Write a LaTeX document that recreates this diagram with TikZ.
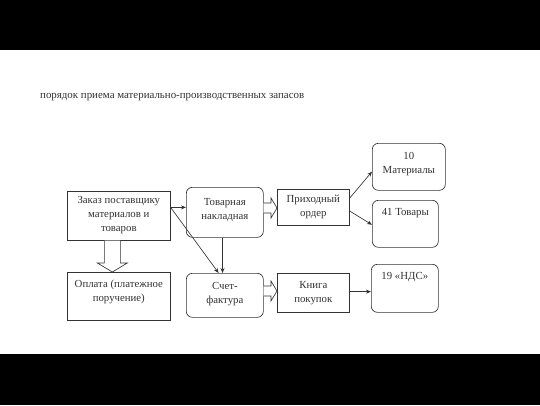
\documentclass[tikz,border=0pt]{standalone}
\usepackage{fontspec}
\setmainfont{Liberation Serif}
\usetikzlibrary{arrows.meta,calc}
\definecolor{ink}{HTML}{333333}
\tikzset{
  box/.style={draw=ink, line width=0.65pt, fill=white, anchor=north west, inner sep=2pt,
    align=center, text=ink, font=\fontsize{10.8}{14}\selectfont},
  rbox/.style={box, rounded corners=6pt},
  arr/.style={draw=ink, line width=0.65pt, -{Stealth[length=5pt,width=4pt]}},
  hollow/.style={draw=ink, line width=0.65pt, fill=white, line join=miter},
  band/.style={fill=black, draw=none},
  title/.style={anchor=west, text=ink, inner sep=0pt, font=\fontsize{10.9}{12}\selectfont}
}
\begin{document}
\begin{tikzpicture}[x=1pt,y=-1pt]
\useasboundingbox (0,0) rectangle (540,405);
\fill[white] (0,0) rectangle (540,405);
\fill[band] (0,0) rectangle (540,50);
\fill[band] (0,354) rectangle (540,405);

\node[title] (ttl) at (40,97.5) {порядок приема материально-производственных запасов};

% boxes
\node[box, minimum width=103pt, minimum height=49pt, text depth=3pt] (zak) at (67,191) {Заказ поставщику\\материалов и\\товаров};
\node[box, minimum width=103pt, minimum height=48pt, text depth=12pt] (opl) at (67,272) {Оплата (платежное\\поручение)};
\node[rbox, minimum width=77pt, minimum height=50pt, text depth=6pt] (tov) at (186,187) {Товарная\\накладная};
\node[rbox, minimum width=77pt, minimum height=44pt, text depth=4pt] (sf) at (186,273) {Счет-\\фактура};
\node[box, minimum width=72pt, minimum height=36pt] (pr) at (277,189) {Приходный\\ордер};
\node[box, minimum width=72pt, minimum height=39pt] (kn) at (277,273) {Книга\\покупок};
\node[rbox, minimum width=73pt, minimum height=47pt, text depth=8pt] (m10) at (372,143) {10\\Материалы};
\node[rbox, minimum width=66pt, minimum height=47pt, text depth=24pt] (t41) at (372,200) {41 Товары};
\node[rbox, minimum width=67pt, minimum height=48pt, text depth=24pt] (n19) at (371,264) {19 «НДС»};

% thin arrows
\coordinate (zA) at ($(zak.north east)!0.33!(zak.south east)$);
\draw[arr] (zA) -- (zA -| tov.west);
\draw[arr] (zA) -- ($(sf.north west)!0.42!(sf.north east)$);
\coordinate (tB) at ($(tov.south west)!0.47!(tov.south east)$);
\draw[arr] (tB) -- (tB |- sf.north);
\draw[arr] ($(pr.north east)!0.25!(pr.south east)$) -- ($(m10.north west)!0.6!(m10.south west)$);
\draw[arr] ($(pr.north east)!0.6!(pr.south east)$) -- ($(t41.north west)!0.52!(t41.south west)$);
\coordinate (kC) at ($(kn.north east)!0.47!(kn.south east)$);
\draw[arr] (kC) -- (kC -| n19.west);

% hollow arrows
\coordinate (c1) at ($(zak.south)+(-6.5,0)$);
\coordinate (t1) at (c1 |- opl.north);
\draw[hollow] ($(c1)+(-8,0)$) -- ($(t1)+(-8,-9)$) -- ($(t1)+(-15,-9)$) -- (t1)
  -- ($(t1)+(15,-9)$) -- ($(t1)+(8,-9)$) -- ($(c1)+(8,0)$);

\coordinate (c2) at (tov.east |- 0,208);
\coordinate (t2) at (c2 -| pr.west);
\draw[hollow] ($(c2)+(0,-5)$) -- ($(t2)+(-6,-5)$) -- ($(t2)+(-6,-10)$) -- (t2)
  -- ($(t2)+(-6,10)$) -- ($(t2)+(-6,5)$) -- ($(c2)+(0,5)$);

\coordinate (c3) at (sf.east |- 0,291);
\coordinate (t3) at (c3 -| kn.west);
\draw[hollow] ($(c3)+(0,-5)$) -- ($(t3)+(-6,-5)$) -- ($(t3)+(-6,-10)$) -- (t3)
  -- ($(t3)+(-6,10)$) -- ($(t3)+(-6,5)$) -- ($(c3)+(0,5)$);
\end{tikzpicture}
\end{document}
